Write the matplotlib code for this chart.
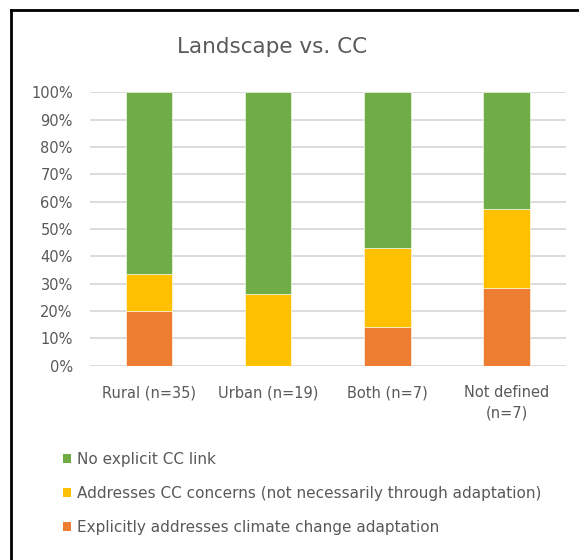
import matplotlib
matplotlib.use("Agg")
import matplotlib.pyplot as plt
from matplotlib.patches import Patch
from matplotlib.lines import Line2D
import numpy as np

plt.rcParams['font.family'] = ['DejaVu Sans']

categories = ["Rural (n=35)", "Urban (n=19)", "Both (n=7)", "Not defined\n(n=7)"]
explicit_adapt = [20.0, 0.0, 14.3, 28.6]
addresses_cc = [13.4, 26.3, 28.6, 28.6]
no_cc_link = [66.6, 73.7, 57.1, 42.8]

series_labels = [
    "Explicitly addresses climate change adaptation",
    "Addresses CC concerns (not necessarily through adaptation)",
    "No explicit CC link",
]
colors = ["#ED7D31", "#FFC000", "#70AD47"]
text_color = "#595959"

W, H = 579, 560
fig = plt.figure(figsize=(W / 100, H / 100), dpi=100)

def px(x0, y0, x1, y1):
    return [x0 / W, 1 - y1 / H, (x1 - x0) / W, (y1 - y0) / H]

ax = fig.add_axes(px(89.5, 92.3, 566, 365.7))

x = np.arange(len(categories))
bottom = np.zeros(len(categories))
for vals, col in zip([explicit_adapt, addresses_cc, no_cc_link], colors):
    vals = np.array(vals)
    ax.bar(x, vals, width=0.39, bottom=bottom, color=col,
           edgecolor="white", linewidth=0.4, zorder=3)
    bottom += vals

ax.set_xlim(-0.5, len(categories) - 0.5)
ax.set_ylim(0, 100)
ax.set_yticks(np.arange(0, 101, 10))
ax.set_yticklabels([f"{v}%" for v in range(0, 101, 10)])
ax.set_xticks(x)
ax.set_xticklabels(categories, linespacing=1.45)
ax.yaxis.grid(True, color="#D9D9D9", linewidth=1.3, zorder=0)
ax.set_axisbelow(True)
for s in ax.spines.values():
    s.set_visible(False)
ax.tick_params(axis="both", length=0, colors=text_color, labelsize=10.5)
ax.tick_params(axis="y", pad=12)
ax.tick_params(axis="x", pad=14)

fig.text(272 / W, 1 - 47 / H, "Landscape vs. CC", ha="center", va="center",
         fontsize=15.5, color=text_color)

handles = [Patch(facecolor=c, edgecolor="none") for c in reversed(colors)]
fig.legend(handles, list(reversed(series_labels)), loc="upper left",
           bbox_to_anchor=(63 / W, 1 - 452 / H), frameon=False,
           fontsize=11, labelcolor=text_color, handlelength=0.55,
           handleheight=0.55, handletextpad=0.35, labelspacing=1.25,
           borderaxespad=0, borderpad=0)

# chart frame: top and left edges
fig.add_artist(Line2D([11 / W, 11 / W], [0, 1 - 9.5 / H], color="black",
                      linewidth=2, transform=fig.transFigure))
fig.add_artist(Line2D([11 / W, 1], [1 - 9.5 / H, 1 - 9.5 / H], color="black",
                      linewidth=2, transform=fig.transFigure))

fig.savefig("out.png", dpi=100)
